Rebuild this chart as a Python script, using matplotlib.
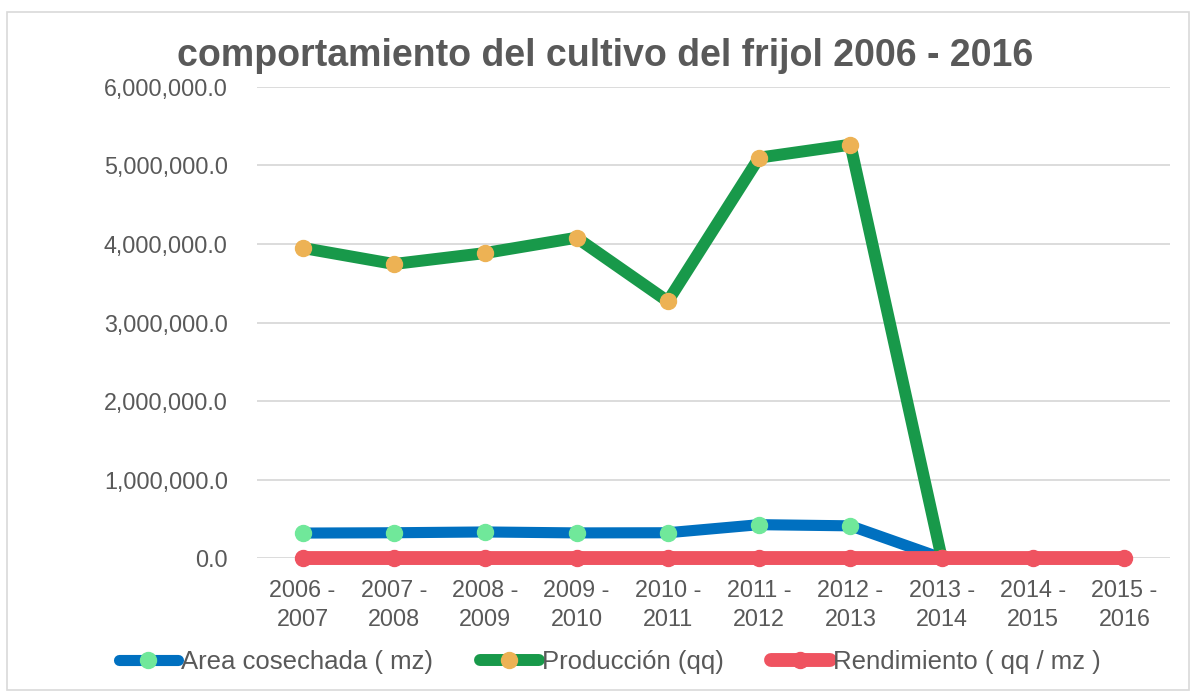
import numpy as np
import matplotlib.pyplot as plt
from matplotlib.patches import Rectangle
from matplotlib.ticker import FuncFormatter

# datos
periodos = ['2006 -\n2007', '2007 -\n2008', '2008 -\n2009', '2009 -\n2010', '2010 -\n2011',
            '2011 -\n2012', '2012 -\n2013', '2013 -\n2014', '2014 -\n2015', '2015 -\n2016']
area_cosechada = [318000, 322000, 332000, 320000, 322000, 425000, 410000, 0, np.nan, np.nan]
produccion = [3950000, 3745000, 3885000, 4080000, 3270000, 5100000, 5265000, 0, np.nan, np.nan]
rendimiento = [12.4, 11.6, 11.7, 12.8, 10.2, 12.0, 12.8, 0, 0, 0]

gris = '#595959'
plt.rcParams['font.family'] = ['Liberation Sans', 'DejaVu Sans']

fig = plt.figure(figsize=(11.93, 6.92), dpi=100)
ax = fig.add_axes([0.2154, 0.1936, 0.7653, 0.6807])

x = np.arange(len(periodos))
ax.plot(x, area_cosechada, color='#0070C0', lw=8, marker='o', ms=11.5,
        mfc='#70E89A', mec='#70E89A', solid_capstyle='round', zorder=3,
        label='Area cosechada ( mz)')
ax.plot(x, produccion, color='#18994A', lw=8.6, marker='o', ms=11.5,
        mfc='#EDB254', mec='#EDB254', solid_capstyle='round', zorder=4,
        label='Producción (qq)')
ax.plot(x, rendimiento, color='#EF5360', lw=10, marker='o', ms=11.5,
        mfc='#EF5360', mec='#EF5360', solid_capstyle='round', zorder=5,
        clip_on=False, label='Rendimiento ( qq / mz )')

ax.set_xlim(-0.5, len(periodos) - 0.5)
ax.set_ylim(0, 6000000)
ax.set_yticks(np.arange(0, 6000001, 1000000))
ax.yaxis.set_major_formatter(FuncFormatter(lambda v, p: f'{v:,.1f}'))
ax.set_xticks(x)
ax.set_xticklabels(periodos)
ax.grid(axis='y', color='#D9D9D9', lw=1.3)
ax.set_axisbelow(True)
for s in ax.spines.values():
    s.set_visible(False)
ax.tick_params(length=0, labelcolor=gris, labelsize=16.8)
ax.tick_params(axis='y', pad=21)
ax.tick_params(axis='x', pad=15)
for t in ax.get_xticklabels():
    t.set_linespacing(1.34)

fig.text(0.507, 0.9046, 'comportamiento del cultivo del frijol 2006 - 2016',
         ha='center', va='baseline', fontsize=27, fontweight='bold', color=gris)

leg = fig.legend(loc='center', bbox_to_anchor=(0.511, 0.0434), ncol=3, frameon=False,
                 fontsize=18.5, handlelength=2.3, handletextpad=0.12, columnspacing=1.83)
for t in leg.get_texts():
    t.set_color(gris)

fig.patches.append(Rectangle((7 / 1193, 2 / 692), 1182 / 1193, 678 / 692,
                             transform=fig.transFigure, fill=False,
                             ec='#D9D9D9', lw=1.2))

fig.savefig('out.png', dpi=100)
